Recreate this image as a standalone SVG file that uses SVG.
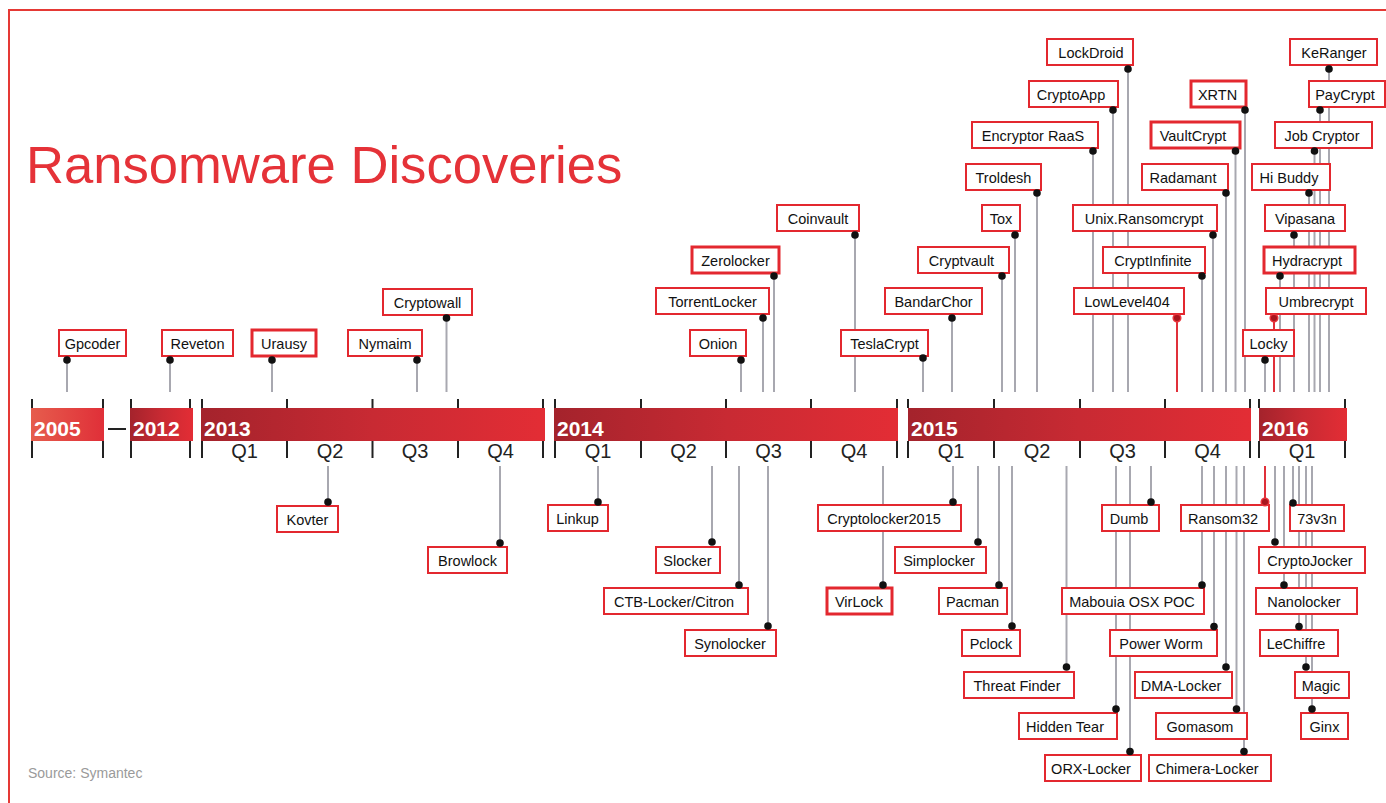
<svg xmlns="http://www.w3.org/2000/svg" width="1386" height="803" viewBox="0 0 1386 803">
<defs>
<linearGradient id="gOld" x1="0" y1="0" x2="1" y2="0"><stop offset="0" stop-color="#e65d4d"/><stop offset="1" stop-color="#e02f38"/></linearGradient>
<linearGradient id="gYear" x1="0" y1="0" x2="1" y2="0"><stop offset="0" stop-color="#a4232c"/><stop offset="0.5" stop-color="#c82a33"/><stop offset="1" stop-color="#e32d35"/></linearGradient>
<style>
.box{fill:#fff;stroke:#e3282f;stroke-width:2}
.thick{stroke-width:3}
.lbl{font-family:"Liberation Sans",Arial,sans-serif;font-size:14.5px;fill:#111;text-anchor:middle}
.dot{fill:#111}
.rdot{fill:#a8161e;stroke:#e8323a;stroke-width:1.5}
.ln{stroke:#a8a8b0;stroke-width:2}
.rln{stroke:#e0303a;stroke-width:2}
.tick{stroke:#222;stroke-width:2}
.yr{font-family:"Liberation Sans",Arial,sans-serif;font-size:21px;font-weight:bold;fill:#fff}
.q{font-family:"Liberation Sans",Arial,sans-serif;font-size:20px;fill:#222;text-anchor:middle}
</style>
</defs>
<rect width="1386" height="803" fill="#fff"/>
<path d="M9 803V10H1386" fill="none" stroke="#e53935" stroke-width="2"/>
<text x="26" y="183" font-family="Liberation Sans, Arial, sans-serif" font-size="52.6" fill="#e53238">Ransomware Discoveries</text>
<text x="28" y="778" font-family="Liberation Sans, Arial, sans-serif" font-size="14" fill="#9a9a9a">Source: Symantec</text>

<g id="connectors">
<line class="ln" x1="67" y1="360" x2="67" y2="392"/>
<line class="ln" x1="170" y1="360" x2="170" y2="392"/>
<line class="ln" x1="272" y1="360" x2="272" y2="392"/>
<line class="ln" x1="417" y1="360" x2="417" y2="392"/>
<line class="ln" x1="446.5" y1="318" x2="446.5" y2="392"/>
<line class="ln" x1="741" y1="360" x2="741" y2="392"/>
<line class="ln" x1="763" y1="318" x2="763" y2="392"/>
<line class="ln" x1="774" y1="276" x2="774" y2="392"/>
<line class="ln" x1="855" y1="235" x2="855" y2="392"/>
<line class="ln" x1="923" y1="358" x2="923" y2="392"/>
<line class="ln" x1="952" y1="318" x2="952" y2="392"/>
<line class="ln" x1="1002" y1="276" x2="1002" y2="392"/>
<line class="ln" x1="1015" y1="235" x2="1015" y2="392"/>
<line class="ln" x1="1037" y1="193" x2="1037" y2="392"/>
<line class="ln" x1="1093" y1="151" x2="1093" y2="392"/>
<line class="ln" x1="1113" y1="110" x2="1113" y2="392"/>
<line class="ln" x1="1128" y1="69" x2="1128" y2="392"/>
<line class="ln" x1="1213" y1="235" x2="1213" y2="392"/>
<line class="ln" x1="1202" y1="276" x2="1202" y2="392"/>
<line class="rln" x1="1177" y1="318" x2="1177" y2="392"/>
<line class="ln" x1="1226" y1="193" x2="1226" y2="392"/>
<line class="ln" x1="1235.5" y1="151" x2="1235.5" y2="392"/>
<line class="ln" x1="1245" y1="110" x2="1245" y2="392"/>
<line class="ln" x1="1265" y1="360" x2="1265" y2="392"/>
<line class="rln" x1="1274" y1="318" x2="1274" y2="392"/>
<line class="ln" x1="1280" y1="276" x2="1280" y2="392"/>
<line class="ln" x1="1294" y1="235" x2="1294" y2="392"/>
<line class="ln" x1="1309" y1="193" x2="1309" y2="392"/>
<line class="ln" x1="1314.5" y1="151" x2="1314.5" y2="392"/>
<line class="ln" x1="1320" y1="110" x2="1320" y2="392"/>
<line class="ln" x1="1329" y1="69" x2="1329" y2="392"/>

<line class="ln" x1="328" y1="466" x2="328" y2="502"/>
<line class="ln" x1="500" y1="466" x2="500" y2="543"/>
<line class="ln" x1="598" y1="466" x2="598" y2="502"/>
<line class="ln" x1="712" y1="466" x2="712" y2="542"/>
<line class="ln" x1="739" y1="466" x2="739" y2="585"/>
<line class="ln" x1="768" y1="466" x2="768" y2="626"/>
<line class="ln" x1="953" y1="466" x2="953" y2="502"/>
<line class="ln" x1="883" y1="466" x2="883" y2="585"/>
<line class="ln" x1="978" y1="466" x2="978" y2="542"/>
<line class="ln" x1="999" y1="466" x2="999" y2="585"/>
<line class="ln" x1="1012" y1="466" x2="1012" y2="626"/>
<line class="ln" x1="1066.5" y1="466" x2="1066.5" y2="667"/>
<line class="ln" x1="1116" y1="466" x2="1116" y2="709"/>
<line class="ln" x1="1130" y1="466" x2="1130" y2="751.5"/>
<line class="ln" x1="1151" y1="466" x2="1151" y2="502"/>
<line class="ln" x1="1202" y1="466" x2="1202" y2="585"/>
<line class="ln" x1="1214" y1="466" x2="1214" y2="626.5"/>
<line class="ln" x1="1226" y1="466" x2="1226" y2="667"/>
<line class="ln" x1="1236.5" y1="466" x2="1236.5" y2="709"/>
<line class="ln" x1="1244" y1="466" x2="1244" y2="751.5"/>
<line class="rln" x1="1265" y1="466" x2="1265" y2="502"/>
<line class="ln" x1="1293" y1="466" x2="1293" y2="503"/>
<line class="ln" x1="1275" y1="466" x2="1275" y2="542"/>
<line class="ln" x1="1284" y1="466" x2="1284" y2="585"/>
<line class="ln" x1="1299" y1="466" x2="1299" y2="626.5"/>
<line class="ln" x1="1306" y1="466" x2="1306" y2="667"/>
<line class="ln" x1="1312" y1="466" x2="1312" y2="709"/>
</g>

<g id="timeline">
<rect x="31" y="408" width="73" height="33" fill="url(#gOld)"/>
<rect x="130" y="408" width="63" height="33" fill="url(#gYear)"/>
<rect x="201" y="408" width="344" height="33" fill="url(#gYear)"/>
<rect x="554" y="408" width="344" height="33" fill="url(#gYear)"/>
<rect x="908" y="408" width="343" height="33" fill="url(#gYear)"/>
<rect x="1259" y="408" width="88" height="33" fill="url(#gYear)"/>
<line x1="108" y1="429" x2="126" y2="429" stroke="#222" stroke-width="2"/>
<g class="tick">
<path d="M32 399V408M32 441V458M103 399V408M103 441V458"/>
<path d="M131 399V408M131 441V458M190 399V408M190 441V458"/>
<path d="M202 399V408M202 441V458M287 399V408M287 441V458M372.5 399V408M372.5 441V458M458 399V408M458 441V458M543 399V408M543 441V458"/>
<path d="M555 399V408M555 441V458M641 399V408M641 441V458M726 399V408M726 441V458M811 399V408M811 441V458M897 399V408M897 441V458"/>
<path d="M908 399V408M908 441V458M994 399V408M994 441V458M1080 399V408M1080 441V458M1165 399V408M1165 441V458M1250 399V408M1250 441V458"/>
<path d="M1259 399V408M1259 441V458M1345 399V408M1345 441V458"/>
</g>
<text class="yr" x="34" y="436">2005</text>
<text class="yr" x="133" y="436">2012</text>
<text class="yr" x="204" y="436">2013</text>
<text class="yr" x="557" y="436">2014</text>
<text class="yr" x="911" y="436">2015</text>
<text class="yr" x="1262" y="436">2016</text>
<text class="q" x="244.5" y="458">Q1</text>
<text class="q" x="330" y="458">Q2</text>
<text class="q" x="415" y="458">Q3</text>
<text class="q" x="500.5" y="458">Q4</text>
<text class="q" x="598" y="458">Q1</text>
<text class="q" x="683.5" y="458">Q2</text>
<text class="q" x="768.5" y="458">Q3</text>
<text class="q" x="854" y="458">Q4</text>
<text class="q" x="951" y="458">Q1</text>
<text class="q" x="1037" y="458">Q2</text>
<text class="q" x="1122.5" y="458">Q3</text>
<text class="q" x="1207.5" y="458">Q4</text>
<text class="q" x="1302" y="458">Q1</text>
</g>

<g id="n-gpcoder"><rect class="box" x="59" y="330" width="67" height="26"/><text class="lbl" x="92.5" y="349">Gpcoder</text><circle class="dot" cx="67" cy="360" r="3.8"/></g>
<g id="n-reveton"><rect class="box" x="162" y="330" width="71" height="26"/><text class="lbl" x="197.5" y="349">Reveton</text><circle class="dot" cx="170" cy="360" r="3.8"/></g>
<g id="n-urausy"><rect class="box thick" x="252" y="330" width="64" height="26"/><text class="lbl" x="284" y="349">Urausy</text><circle class="dot" cx="272" cy="360" r="3.8"/></g>
<g id="n-nymaim"><rect class="box" x="348" y="330" width="74" height="26"/><text class="lbl" x="385" y="349">Nymaim</text><circle class="dot" cx="417" cy="360" r="3.8"/></g>
<g id="n-cryptowall"><rect class="box" x="383" y="289" width="89" height="26"/><text class="lbl" x="427.5" y="308">Cryptowall</text><circle class="dot" cx="446.5" cy="318" r="3.8"/></g>
<g id="n-onion"><rect class="box" x="690" y="330" width="56" height="26"/><text class="lbl" x="718" y="349">Onion</text><circle class="dot" cx="741" cy="360" r="3.8"/></g>
<g id="n-torrentlocker"><rect class="box" x="656" y="288" width="113" height="26"/><text class="lbl" x="712.5" y="307">TorrentLocker</text><circle class="dot" cx="763" cy="318" r="3.8"/></g>
<g id="n-zerolocker"><rect class="box thick" x="692" y="247" width="87" height="26"/><text class="lbl" x="735.5" y="266">Zerolocker</text><circle class="dot" cx="774" cy="276" r="3.8"/></g>
<g id="n-coinvault"><rect class="box" x="777" y="205" width="82" height="26"/><text class="lbl" x="818" y="224">Coinvault</text><circle class="dot" cx="855" cy="235" r="3.8"/></g>
<g id="n-teslacrypt"><rect class="box" x="841" y="330" width="87" height="26"/><text class="lbl" x="884.5" y="349">TeslaCrypt</text><circle class="dot" cx="923" cy="358" r="3.8"/></g>
<g id="n-bandarchor"><rect class="box" x="885" y="288" width="97" height="26"/><text class="lbl" x="933.5" y="307">BandarChor</text><circle class="dot" cx="952" cy="318" r="3.8"/></g>
<g id="n-cryptvault"><rect class="box" x="918" y="247" width="91" height="26"/><text class="lbl" x="961.5" y="266">Cryptvault</text><circle class="dot" cx="1002" cy="276" r="3.8"/></g>
<g id="n-tox"><rect class="box" x="982" y="205" width="38" height="26"/><text class="lbl" x="1001" y="224">Tox</text><circle class="dot" cx="1015" cy="235" r="3.8"/></g>
<g id="n-troldesh"><rect class="box" x="966" y="164" width="75" height="26"/><text class="lbl" x="1003.5" y="183">Troldesh</text><circle class="dot" cx="1037" cy="193" r="3.8"/></g>
<g id="n-encryptor"><rect class="box" x="972" y="122" width="126" height="26"/><text class="lbl" x="1033" y="141">Encryptor RaaS</text><circle class="dot" cx="1093" cy="151" r="3.8"/></g>
<g id="n-cryptoapp"><rect class="box" x="1029" y="81" width="89" height="26"/><text class="lbl" x="1071" y="100">CryptoApp</text><circle class="dot" cx="1113" cy="110" r="3.8"/></g>
<g id="n-lockdroid"><rect class="box" x="1047" y="39" width="86" height="26"/><text class="lbl" x="1091" y="58">LockDroid</text><circle class="dot" cx="1128" cy="69" r="3.8"/></g>
<g id="n-unix"><rect class="box" x="1073" y="205" width="144" height="26"/><text class="lbl" x="1144" y="224">Unix.Ransomcrypt</text><circle class="dot" cx="1213" cy="235" r="3.8"/></g>
<g id="n-cryptinfinite"><rect class="box" x="1103" y="247" width="102" height="26"/><text class="lbl" x="1153" y="266">CryptInfinite</text><circle class="dot" cx="1202" cy="276" r="3.8"/></g>
<g id="n-lowlevel404"><rect class="box" x="1074" y="288" width="110" height="26"/><text class="lbl" x="1127" y="307">LowLevel404</text><circle class="rdot" cx="1177" cy="318" r="3.8"/></g>
<g id="n-radamant"><rect class="box" x="1142" y="164" width="86" height="26"/><text class="lbl" x="1183" y="183">Radamant</text><circle class="dot" cx="1226" cy="193" r="3.8"/></g>
<g id="n-vaultcrypt"><rect class="box thick" x="1151" y="122" width="89" height="26"/><text class="lbl" x="1193" y="141">VaultCrypt</text><circle class="dot" cx="1235.5" cy="151" r="3.8"/></g>
<g id="n-xrtn"><rect class="box thick" x="1191" y="81" width="55" height="26"/><text class="lbl" x="1217.5" y="100">XRTN</text><circle class="dot" cx="1245" cy="110" r="3.8"/></g>
<g id="n-locky"><rect class="box" x="1243" y="330" width="51" height="26"/><text class="lbl" x="1268.5" y="349">Locky</text><circle class="dot" cx="1265" cy="360" r="3.8"/></g>
<g id="n-umbrecrypt"><rect class="box" x="1266" y="288" width="100" height="26"/><text class="lbl" x="1316" y="307">Umbrecrypt</text><circle class="rdot" cx="1274" cy="318" r="3.8"/></g>
<g id="n-hydracrypt"><rect class="box thick" x="1264" y="247" width="91" height="26"/><text class="lbl" x="1307" y="266">Hydracrypt</text><circle class="dot" cx="1280" cy="276" r="3.8"/></g>
<g id="n-vipasana"><rect class="box" x="1265" y="205" width="80" height="26"/><text class="lbl" x="1305" y="224">Vipasana</text><circle class="dot" cx="1294" cy="235" r="3.8"/></g>
<g id="n-hibuddy"><rect class="box" x="1252" y="164" width="78" height="26"/><text class="lbl" x="1289" y="183">Hi Buddy</text><circle class="dot" cx="1309" cy="193" r="3.8"/></g>
<g id="n-jobcryptor"><rect class="box" x="1275" y="122" width="97" height="26"/><text class="lbl" x="1322" y="141">Job Cryptor</text><circle class="dot" cx="1314.5" cy="151" r="3.8"/></g>
<g id="n-paycrypt"><rect class="box" x="1309" y="81" width="76" height="26"/><text class="lbl" x="1345" y="100">PayCrypt</text><circle class="dot" cx="1320" cy="110" r="3.8"/></g>
<g id="n-keranger"><rect class="box" x="1290" y="39" width="87" height="26"/><text class="lbl" x="1334" y="58">KeRanger</text><circle class="dot" cx="1329" cy="69" r="3.8"/></g>

<g id="n-kovter"><rect class="box" x="277" y="506" width="61" height="26"/><text class="lbl" x="307.5" y="525">Kovter</text><circle class="dot" cx="328" cy="502" r="3.8"/></g>
<g id="n-browlock"><rect class="box" x="428" y="547" width="79" height="26"/><text class="lbl" x="467.5" y="566">Browlock</text><circle class="dot" cx="500" cy="543" r="3.8"/></g>
<g id="n-linkup"><rect class="box" x="548" y="505" width="60" height="26"/><text class="lbl" x="577.5" y="524">Linkup</text><circle class="dot" cx="598" cy="502" r="3.8"/></g>
<g id="n-slocker"><rect class="box" x="656" y="547" width="64" height="26"/><text class="lbl" x="687.5" y="566">Slocker</text><circle class="dot" cx="712" cy="542" r="3.8"/></g>
<g id="n-ctb"><rect class="box" x="604" y="588" width="144" height="26"/><text class="lbl" x="674" y="607">CTB-Locker/Citron</text><circle class="dot" cx="739" cy="585" r="3.8"/></g>
<g id="n-synolocker"><rect class="box" x="685" y="630" width="91" height="26"/><text class="lbl" x="730" y="649">Synolocker</text><circle class="dot" cx="768" cy="626" r="3.8"/></g>
<g id="n-cryptolocker2015"><rect class="box" x="818" y="505" width="143" height="26"/><text class="lbl" x="884" y="524">Cryptolocker2015</text><circle class="dot" cx="953" cy="502" r="3.8"/></g>
<g id="n-virlock"><rect class="box thick" x="827" y="588" width="65" height="26"/><text class="lbl" x="859" y="607">VirLock</text><circle class="dot" cx="883" cy="585" r="3.8"/></g>
<g id="n-simplocker"><rect class="box" x="895" y="547" width="91" height="26"/><text class="lbl" x="939" y="566">Simplocker</text><circle class="dot" cx="978" cy="542" r="3.8"/></g>
<g id="n-pacman"><rect class="box" x="939" y="588" width="68" height="26"/><text class="lbl" x="972.5" y="607">Pacman</text><circle class="dot" cx="999" cy="585" r="3.8"/></g>
<g id="n-pclock"><rect class="box" x="962" y="630" width="58" height="26"/><text class="lbl" x="991" y="649">Pclock</text><circle class="dot" cx="1012" cy="626" r="3.8"/></g>
<g id="n-threatfinder"><rect class="box" x="964" y="672" width="110" height="26"/><text class="lbl" x="1017" y="691">Threat Finder</text><circle class="dot" cx="1066.5" cy="667" r="3.8"/></g>
<g id="n-hiddentear"><rect class="box" x="1019" y="713" width="98" height="26"/><text class="lbl" x="1065" y="732">Hidden Tear</text><circle class="dot" cx="1116" cy="709" r="3.8"/></g>
<g id="n-orx"><rect class="box" x="1045" y="755" width="96" height="26"/><text class="lbl" x="1091" y="774">ORX-Locker</text><circle class="dot" cx="1130" cy="751.5" r="3.8"/></g>
<g id="n-dumb"><rect class="box" x="1102" y="505" width="57" height="26"/><text class="lbl" x="1129" y="524">Dumb</text><circle class="dot" cx="1151" cy="502" r="3.8"/></g>
<g id="n-mabouia"><rect class="box" x="1062" y="588" width="142" height="26"/><text class="lbl" x="1132" y="607">Mabouia OSX POC</text><circle class="dot" cx="1202" cy="585" r="3.8"/></g>
<g id="n-powerworm"><rect class="box" x="1110" y="630" width="107" height="26"/><text class="lbl" x="1161" y="649">Power Worm</text><circle class="dot" cx="1214" cy="626.5" r="3.8"/></g>
<g id="n-dmalocker"><rect class="box" x="1135" y="672" width="97" height="26"/><text class="lbl" x="1181" y="691">DMA-Locker</text><circle class="dot" cx="1226" cy="667" r="3.8"/></g>
<g id="n-gomasom"><rect class="box" x="1156" y="713" width="91" height="26"/><text class="lbl" x="1200" y="732">Gomasom</text><circle class="dot" cx="1236.5" cy="709" r="3.8"/></g>
<g id="n-chimera"><rect class="box" x="1149" y="755" width="122" height="26"/><text class="lbl" x="1207" y="774">Chimera-Locker</text><circle class="dot" cx="1244" cy="751.5" r="3.8"/></g>
<g id="n-ransom32"><rect class="box" x="1181" y="505" width="88" height="26"/><text class="lbl" x="1223" y="524">Ransom32</text><circle class="rdot" cx="1265" cy="502" r="3.8"/></g>
<g id="n-73v3n"><rect class="box" x="1290" y="505" width="54" height="26"/><text class="lbl" x="1317" y="524">73v3n</text><circle class="dot" cx="1293" cy="503" r="3.8"/></g>
<g id="n-cryptojocker"><rect class="box" x="1259" y="547" width="106" height="26"/><text class="lbl" x="1310" y="566">CryptoJocker</text><circle class="dot" cx="1275" cy="542" r="3.8"/></g>
<g id="n-nanolocker"><rect class="box" x="1256" y="588" width="101" height="26"/><text class="lbl" x="1304" y="607">Nanolocker</text><circle class="dot" cx="1284" cy="585" r="3.8"/></g>
<g id="n-lechiffre"><rect class="box" x="1260" y="630" width="78" height="26"/><text class="lbl" x="1296" y="649">LeChiffre</text><circle class="dot" cx="1299" cy="626.5" r="3.8"/></g>
<g id="n-magic"><rect class="box" x="1295" y="672" width="54" height="26"/><text class="lbl" x="1321" y="691">Magic</text><circle class="dot" cx="1306" cy="667" r="3.8"/></g>
<g id="n-ginx"><rect class="box" x="1301" y="713" width="47" height="26"/><text class="lbl" x="1324.5" y="732">Ginx</text><circle class="dot" cx="1312" cy="709" r="3.8"/></g>
</svg>
